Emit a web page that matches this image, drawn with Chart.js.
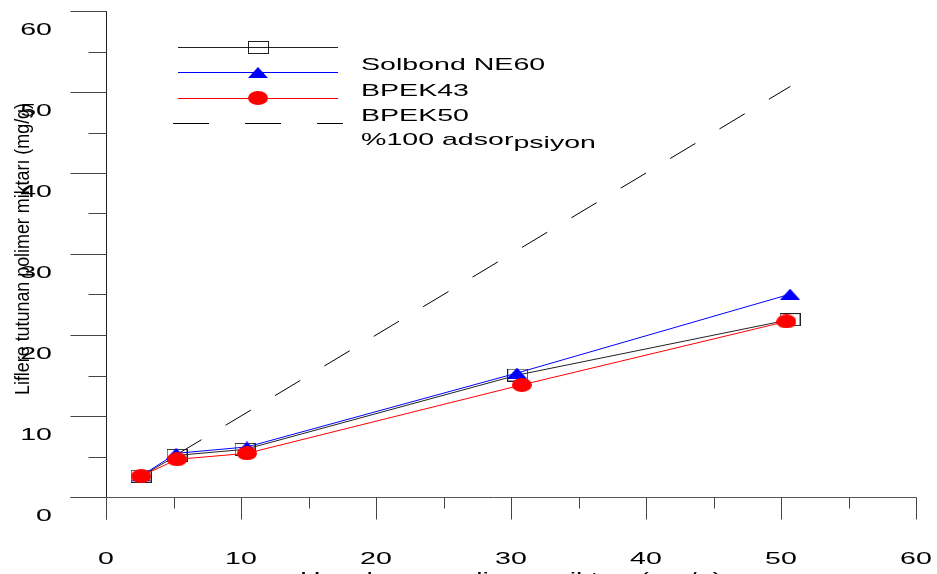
<!DOCTYPE html>
<html>
<head>
<meta charset="utf-8">
<script src="https://cdn.jsdelivr.net/npm/chart.js@4/dist/chart.umd.min.js"></script>
<style>
  html, body { margin: 0; padding: 0; background: #fff; overflow: hidden; }
  canvas { display: block; }
</style>
</head>
<body>
<canvas id="c" width="937" height="574"></canvas>
<script>
// Measured series (x: uygulanan, y: tutunan polimer, mg/g)
const solbondX = [2.6, 5.26, 10.3, 30.5, 50.67];
const solbondY = [2.57, 5.14, 5.88, 15.06, 21.9];
const bpek43X = [2.6, 5.2, 10.44, 30.44, 50.67];
const bpek43Y = [2.6, 5.39, 6.18, 15.3, 25.04];
const bpek50X = [2.6, 5.26, 10.44, 30.8, 50.4];
const bpek50Y = [2.57, 4.65, 5.39, 13.84, 21.67];
const fullX = [5.2, 50.7];
const fullY = [5.2, 50.7];

const seriesLabels = ['Solbond NE60', 'BPEK43', 'BPEK50', '%100 adsorpsiyon'];
const tickValues = [0, 10, 20, 30, 40, 50, 60];
const tickLabels = ['0', '10', '20', '30', '40', '50', '60'];
const minorTickValues = [5, 15, 25, 35, 45, 55];
const yTitle = 'Liflere tutunan polimer miktarı (mg/g)';
const xTitle = 'Uygulanan polimer miktarı (mg/g)';

const FONT = '17px "Liberation Sans", Arial, sans-serif';
const STRETCH = 1.68;

function pts(xs, ys) { return xs.map((x, i) => ({ x: x, y: ys[i] })); }

// Marker glyphs (flattened shapes)
function rectMarker() {
  const c = document.createElement('canvas'); c.width = 21; c.height = 13;
  const g = c.getContext('2d');
  g.strokeStyle = '#222'; g.lineWidth = 1; g.strokeRect(0.5, 0.5, 20, 12);
  return c;
}
function triMarker() {
  const c = document.createElement('canvas'); c.width = 20; c.height = 11;
  const g = c.getContext('2d');
  g.fillStyle = '#0000ff'; g.beginPath(); g.moveTo(10, 0); g.lineTo(20, 11); g.lineTo(0, 11); g.closePath(); g.fill();
  return c;
}
function ellMarker() {
  const c = document.createElement('canvas'); c.width = 20; c.height = 14;
  const g = c.getContext('2d');
  g.fillStyle = '#ff0000'; g.beginPath(); g.ellipse(10, 7, 10, 7, 0, 0, Math.PI * 2); g.fill();
  return c;
}

function stretchedText(ctx, text, x, y, align) {
  ctx.save();
  ctx.translate(x, y);
  ctx.scale(STRETCH, 1);
  ctx.textAlign = align;
  ctx.textBaseline = 'middle';
  ctx.fillText(text, 0, 0);
  ctx.restore();
}

const axesPlugin = {
  id: 'axesPlugin',
  beforeDatasetsDraw(chart) {
    const ctx = chart.ctx;
    const xs = chart.scales.x, ys = chart.scales.y;
    const x0 = Math.round(xs.getPixelForValue(0)) + 0.5;
    const y0 = Math.round(ys.getPixelForValue(0)) + 0.5;
    ctx.save();
    ctx.lineWidth = 1;
    // axis lines
    ctx.strokeStyle = '#222';
    ctx.beginPath();
    ctx.moveTo(x0, Math.round(ys.getPixelForValue(60)));
    ctx.lineTo(x0, y0 + 22);
    ctx.stroke();
    ctx.strokeStyle = '#555';
    ctx.beginPath();
    ctx.moveTo(x0 - 36, y0);
    ctx.lineTo(Math.round(xs.getPixelForValue(60)) + 0.5, y0);
    ctx.stroke();
    // ticks
    ctx.strokeStyle = '#444';
    ctx.beginPath();
    tickValues.forEach(v => {
      const py = Math.round(ys.getPixelForValue(v)) + 0.5;
      ctx.moveTo(x0 - 36, py); ctx.lineTo(x0, py);
      const px = Math.round(xs.getPixelForValue(v)) + 0.5;
      ctx.moveTo(px, y0); ctx.lineTo(px, y0 + 22);
    });
    minorTickValues.forEach(v => {
      const py = Math.round(ys.getPixelForValue(v)) + 0.5;
      ctx.moveTo(x0 - 18, py); ctx.lineTo(x0, py);
      const px = Math.round(xs.getPixelForValue(v)) + 0.5;
      ctx.moveTo(px, y0); ctx.lineTo(px, y0 + 11);
    });
    ctx.stroke();
    ctx.restore();
  },
  afterDraw(chart) {
    const ctx = chart.ctx;
    const xs = chart.scales.x, ys = chart.scales.y;
    ctx.save();
    ctx.fillStyle = '#000';
    ctx.font = FONT;
    // tick labels
    tickValues.forEach((v, i) => {
      stretchedText(ctx, tickLabels[i], 52, ys.getPixelForValue(v) + 19, 'right');
      stretchedText(ctx, tickLabels[i], xs.getPixelForValue(v), 559, 'center');
    });

    // legend
    const ds = chart.data.datasets;
    const legendOrder = [2, 1, 0, 3];
    const lineY = [47, 72, 98, 123];
    const textY = [64, 91, 116, 140];
    legendOrder.forEach((di, k) => {
      const d = ds[di];
      ctx.save();
      ctx.strokeStyle = d.borderColor;
      ctx.lineWidth = 1;
      ctx.beginPath();
      if (d.borderDash) {
        ctx.setLineDash([36, 36]);
        ctx.moveTo(173, lineY[k] + 0.5); ctx.lineTo(343, lineY[k] + 0.5);
      } else {
        ctx.moveTo(178, lineY[k] + 0.5); ctx.lineTo(338, lineY[k] + 0.5);
      }
      ctx.stroke();
      ctx.restore();
      if (d.pointStyle && d.pointStyle.width) {
        const img = d.pointStyle;
        ctx.drawImage(img, Math.round(258 - img.width / 2), Math.round(lineY[k] - img.height / 2));
      }
    });
    ctx.font = FONT;
    stretchedText(ctx, seriesLabels[0], 361, textY[0] + 1, 'left');
    stretchedText(ctx, seriesLabels[1], 361, textY[1], 'left');
    stretchedText(ctx, seriesLabels[2], 361, textY[2], 'left');
    // last label: "psiyon" sits a little lower
    const last = seriesLabels[3];
    const cut = last.indexOf('psiyon');
    const head = last.slice(0, cut), tail = last.slice(cut);
    stretchedText(ctx, head, 361, textY[3], 'left');
    stretchedText(ctx, tail, 361 + ctx.measureText(head).width * STRETCH, textY[3] + 3, 'left');

    // y axis title (rotated, fitted along its length)
    ctx.save();
    ctx.font = '20px "Liberation Sans", Arial, sans-serif';
    const w = ctx.measureText(yTitle).width;
    ctx.translate(23, 249);
    ctx.rotate(-Math.PI / 2);
    ctx.scale(292 / w, 1);
    ctx.textAlign = 'center';
    ctx.textBaseline = 'middle';
    ctx.fillText(yTitle, 0, 0);
    ctx.restore();

    // x axis title, running off the bottom edge
    ctx.save();
    ctx.font = FONT;
    ctx.translate(511, 584);
    ctx.scale(STRETCH, 1);
    ctx.textAlign = 'center';
    ctx.textBaseline = 'alphabetic';
    ctx.fillText(xTitle, 0, 0);
    ctx.restore();

    ctx.restore();
  }
};

new Chart(document.getElementById('c'), {
  type: 'line',
  data: {
    datasets: [
      { label: seriesLabels[2], data: pts(bpek50X, bpek50Y), borderColor: '#ff0000', backgroundColor: '#ff0000',
        borderWidth: 1, pointStyle: ellMarker(), pointRadius: 10, order: 0 },
      { label: seriesLabels[1], data: pts(bpek43X, bpek43Y), borderColor: '#0000ff', backgroundColor: '#0000ff',
        borderWidth: 1, pointStyle: triMarker(), pointRadius: 10, order: 1 },
      { label: seriesLabels[0], data: pts(solbondX, solbondY), borderColor: '#222222', backgroundColor: '#222222',
        borderWidth: 1, pointStyle: rectMarker(), pointRadius: 10, order: 2 },
      { label: seriesLabels[3], data: pts(fullX, fullY), borderColor: '#000000', borderWidth: 1,
        borderDash: [29.5, 28.1], pointRadius: 0, order: 3 }
    ]
  },
  options: {
    responsive: false,
    devicePixelRatio: 1,
    animation: false,
    layout: { padding: { left: 106, right: 21, top: 7, bottom: 77 } },
    elements: { line: { tension: 0, fill: false } },
    plugins: { legend: { display: false }, tooltip: { enabled: false } },
    scales: {
      x: { type: 'linear', min: 0, max: 60, display: false },
      y: { type: 'linear', min: 0, max: 60, display: false }
    }
  },
  plugins: [axesPlugin]
});
</script>
</body>
</html>
